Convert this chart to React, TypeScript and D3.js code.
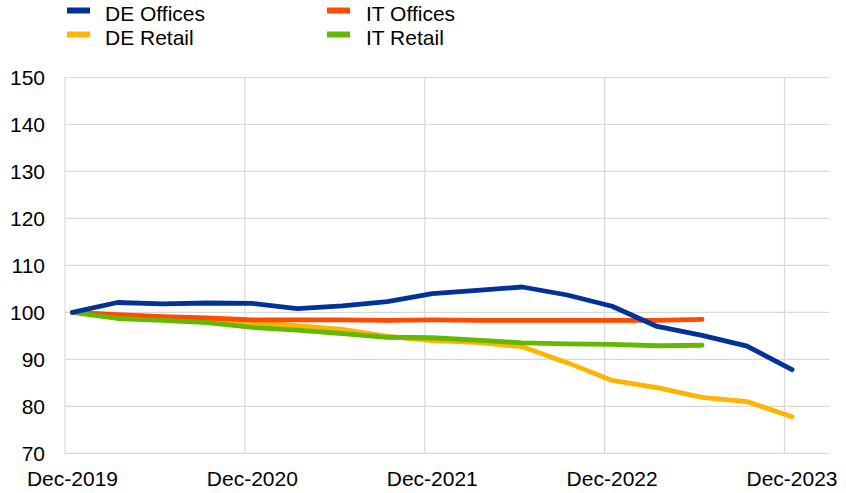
import * as d3 from 'd3';
import React from 'react';

// quarterly observations, month offset from Dec-2019
const deMonths = d3.range(0, 49, 3);
const itMonths = d3.range(0, 43, 3);

const deOffices = [100, 102.1, 101.8, 102.0, 101.9, 100.8, 101.4, 102.3, 104.0, 104.7, 105.4, 103.7, 101.3, 97.0, 95.1, 92.8, 87.8];
const deRetail = [100, 99.4, 99.0, 98.5, 97.8, 97.2, 96.4, 94.9, 94.0, 93.6, 92.7, 89.3, 85.5, 84.0, 81.9, 81.0, 77.8];
const itOffices = [100, 99.5, 99.1, 98.8, 98.4, 98.4, 98.4, 98.3, 98.4, 98.3, 98.3, 98.3, 98.3, 98.3, 98.5];
const itRetail = [100, 98.7, 98.3, 97.8, 96.8, 96.2, 95.5, 94.7, 94.6, 94.1, 93.5, 93.3, 93.2, 92.9, 93.0];

const yTicks = [70, 80, 90, 100, 110, 120, 130, 140, 150];
const xTickMonths = [0, 12, 24, 36, 48];
const xTickLabels = ['Dec-2019', 'Dec-2020', 'Dec-2021', 'Dec-2022', 'Dec-2023'];

const series = [
  { name: 'DE Offices', color: '#003299', months: deMonths, values: deOffices },
  { name: 'DE Retail', color: '#FFB400', months: deMonths, values: deRetail },
  { name: 'IT Offices', color: '#FF4B00', months: itMonths, values: itOffices },
  { name: 'IT Retail', color: '#65B800', months: itMonths, values: itRetail },
];

// draw order: later on top
const drawOrder = ['DE Retail', 'IT Offices', 'IT Retail', 'DE Offices'];

const W = 846;
const H = 493;
const font = 'Arial, "Liberation Sans", sans-serif';

export default function App() {
  const x = d3.scaleLinear().domain([-0.5, 50.5]).range([65, 829.5]);
  const y = d3.scaleLinear().domain([70, 150]).range([453.3, 77.5]);

  const line = d3.line<[number, number]>()
    .x(d => x(d[0]))
    .y(d => y(d[1]));

  const legendPos = [
    { sx: 67, tx: 105, y: 10.5, base: 21 },
    { sx: 67, tx: 105, y: 34.5, base: 45 },
    { sx: 327, tx: 366, y: 10.5, base: 21 },
    { sx: 327, tx: 366, y: 34.5, base: 45 },
  ];

  return (
    <svg width={W} height={H} style={{ position: 'absolute', left: 0, top: 0 }}>
      <rect width={W} height={H} fill="#fff" />
      {yTicks.map(t => (
        <line key={'gy' + t} x1={x(-0.5)} x2={x(50.5)} y1={y(t)} y2={y(t)} stroke="#d9d9d9" strokeWidth={1.2} />
      ))}
      {xTickMonths.map(m => (
        <line key={'gx' + m} x1={x(m - 0.5)} x2={x(m - 0.5)} y1={y(150)} y2={y(70)} stroke="#d9d9d9" strokeWidth={1.2} />
      ))}
      {yTicks.map(t => (
        <text key={'ty' + t} x={45} y={y(t)} dy="0.36em" textAnchor="end" fontFamily={font} fontSize={21} fill="#000">{t}</text>
      ))}
      {xTickMonths.map((m, i) => (
        <text key={'tx' + m} x={x(m)} y={486} textAnchor="middle" fontFamily={font} fontSize={21} fill="#000">{xTickLabels[i]}</text>
      ))}
      {drawOrder.map(n => {
        const s = series.find(d => d.name === n)!;
        const pts = s.months.map((m, i) => [m, s.values[i]] as [number, number]);
        return (
          <path key={n} d={line(pts) || ''} fill="none" stroke={s.color} strokeWidth={4.8} strokeLinejoin="round" strokeLinecap="round" />
        );
      })}
      {series.map((s, i) => (
        <g key={'lg' + s.name}>
          <rect x={legendPos[i].sx} y={legendPos[i].y - 3} width={23} height={6} fill={s.color} />
          <text x={legendPos[i].tx} y={legendPos[i].base} fontFamily={font} fontSize={21} fill="#000">{s.name}</text>
        </g>
      ))}
    </svg>
  );
}
